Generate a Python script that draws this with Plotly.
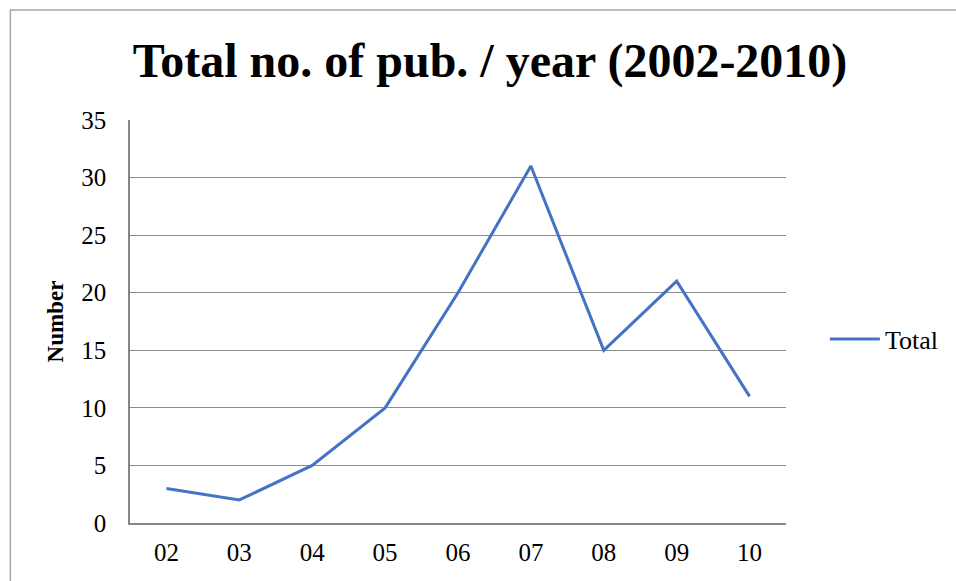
import plotly.graph_objects as go

years = ["02", "03", "04", "05", "06", "07", "08", "09", "10"]
totals = [3, 2, 5, 10, 20, 31, 15, 21, 11]
y_ticks = [0, 5, 10, 15, 20, 25, 30, 35]

W, H = 956, 581
L, R, T, B = 130, 168, 120, 58
pw, ph = W - L - R, H - T - B

def px_x(x):
    return (x - L) / pw

def px_y(y):
    return (H - B - y) / ph

font = "Liberation Serif, Times New Roman, serif"

fig = go.Figure()
fig.add_trace(go.Scatter(x=years, y=totals, mode="lines", name="Total",
                         line=dict(color="#4472C4", width=3)))

fig.update_layout(
    width=W, height=H,
    margin=dict(l=L, r=R, t=T, b=B),
    paper_bgcolor="white", plot_bgcolor="white",
    font=dict(family=font, color="black", size=25),
    title=dict(text="<b>Total no. of pub. / year (2002-2010)</b>",
               font=dict(size=48, family=font, color="black"),
               xref="container", x=490 / W, xanchor="center",
               yref="container", y=(H - 60) / H, yanchor="middle"),
    showlegend=True,
    legend=dict(x=px_x(827), y=px_y(339), xanchor="left", yanchor="middle",
                font=dict(size=26, family=font), itemwidth=50,
                bgcolor="rgba(0,0,0,0)"),
    xaxis=dict(type="category", range=[-0.5, 8.5], showgrid=False,
               showline=True, linecolor="#868686", linewidth=2,
               ticks="", tickfont=dict(size=25), ticklabelstandoff=6),
    yaxis=dict(range=[0, 35], tickvals=y_ticks, showgrid=True,
               gridcolor="#8c8c8c", gridwidth=1, zeroline=False,
               showline=True, linecolor="#868686", linewidth=1.5,
               ticks="", tickfont=dict(size=25), ticklabelstandoff=17,
               title=dict(text="<b>Number</b>", font=dict(size=23, family=font),
                          standoff=11)),
    shapes=[dict(type="rect", xref="paper", yref="paper",
                 x0=px_x(10), x1=px_x(W + 20), y0=px_y(H + 20), y1=px_y(10),
                 line=dict(color="#a6a6a6", width=1.5), fillcolor="rgba(0,0,0,0)",
                 layer="below")],
)

fig.write_html("out.html", config={"displayModeBar": False},
               post_script="document.body.style.margin='0';document.body.style.padding='0';")
